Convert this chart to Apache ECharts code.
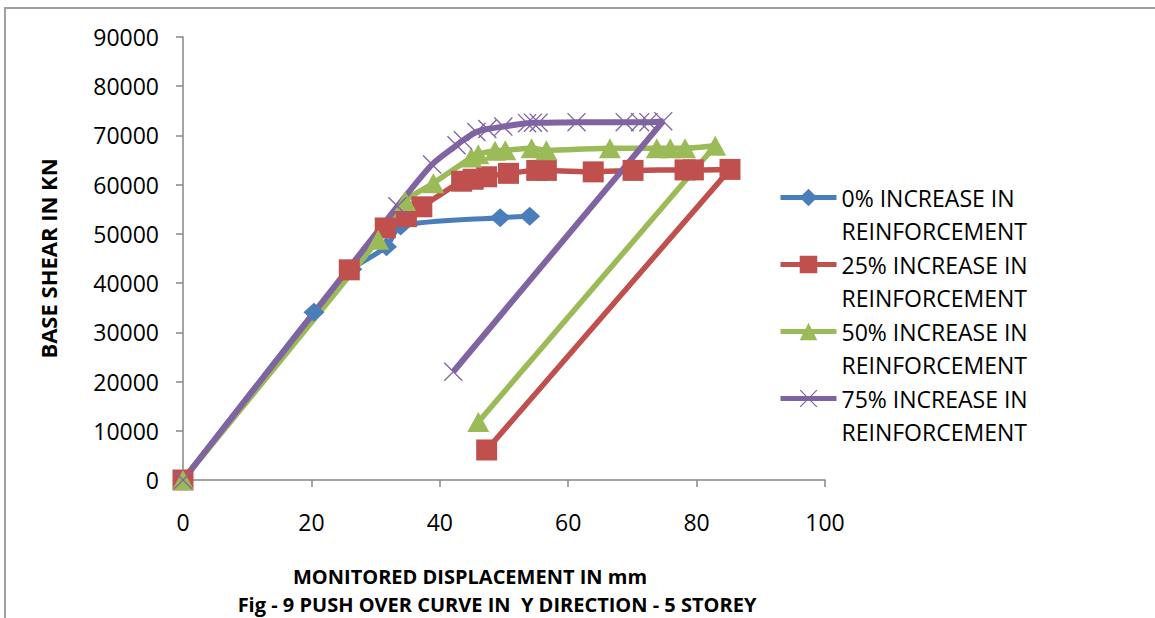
<!DOCTYPE html>
<html>
<head>
<meta charset="utf-8">
<script src="https://cdn.jsdelivr.net/npm/echarts@6/dist/echarts.min.js"></script>
<style>
  html, body { margin: 0; padding: 0; background: #fff; }
  .frame {
    position: absolute; left: 4px; top: 7px; right: 0; bottom: 0;
    border-left: 2px solid #a0a0a0; border-top: 2px solid #a0a0a0;
  }
  #chart { position: absolute; left: 0; top: 0; width: 1155px; height: 618px; }
</style>
</head>
<body>
<div class="frame"></div>
<div id="chart"></div>
<script>
// displacement (mm) / base shear (kN) per pushover step
const blueX = [0, 20.4, 26.3, 31.7, 33.9, 49.4, 54.0];
const blueY = [0, 34100, 42800, 47400, 51600, 53300, 53600];

const redX = [0, 25.9, 31.5, 34.8, 37.2, 43.4, 45.2, 47.3, 50.7, 55.1, 56.6, 63.9, 70.1, 78.2, 79.5, 85.2, 47.3];
const redY = [0, 42700, 51200, 53500, 55500, 60700, 61100, 61600, 62300, 62900, 62900, 62600, 62900, 63000, 63000, 63100, 6100];

const greenX = [0, 30.4, 34.6, 39.0, 44.9, 46.0, 48.6, 50.2, 54.3, 56.6, 66.5, 73.8, 75.9, 78.2, 82.9, 46.0];
const greenY = [0, 48800, 56700, 60300, 65500, 66200, 66900, 67000, 67400, 67000, 67400, 67400, 67400, 67400, 67900, 11800];

const purpleX = [0, 33.4, 38.8, 42.6, 43.6, 45.7, 47.4, 49.9, 53.6, 54.5, 55.4, 61.3, 68.8, 71.2, 72.5, 74.8, 42.1];
const purpleY = [0, 55600, 64100, 68000, 69000, 70700, 71300, 71800, 72500, 72600, 72600, 72700, 72700, 72700, 72700, 72900, 22000];

const seriesNames = [
  '0% INCREASE IN\nREINFORCEMENT',
  '25% INCREASE IN\nREINFORCEMENT',
  '50% INCREASE IN\nREINFORCEMENT',
  '75% INCREASE IN\nREINFORCEMENT'
];
const xTicks = [0, 20, 40, 60, 80, 100];
const yTicks = [0, 10000, 20000, 30000, 40000, 50000, 60000, 70000, 80000, 90000];

const FONT = 'Open Sans';
const crossPath = 'path://M0,1 L1,0 L20,19 L19,20 Z M19,0 L20,1 L1,20 L0,19 Z';

function pairs(xs, ys) {
  return xs.map((x, i) => [x, ys[i]]);
}

function makeSeries(name, xs, ys, color, symbol, size, width) {
  return {
    name: name,
    type: 'line',
    data: pairs(xs, ys),
    smooth: 0.25,
    symbol: symbol,
    symbolSize: size,
    showAllSymbol: true,
    lineStyle: { color: color, width: width },
    itemStyle: { color: color },
    emphasis: { disabled: true },
    animation: false
  };
}

const chart = echarts.init(document.getElementById('chart'), null, { renderer: 'svg' });

const titleFont = { fontFamily: FONT, fontSize: 20, lineHeight: 20, fontWeight: 'bold', color: '#000' };

const option = {
  backgroundColor: 'transparent',
  title: [
    {
      text: 'MONITORED DISPLACEMENT IN mm',
      left: 470, top: 566,
      textAlign: 'center',
      padding: 0,
      textStyle: titleFont
    },
    {
      text: 'Fig - 9 PUSH OVER CURVE IN  Y DIRECTION - 5 STOREY',
      left: 497, top: 594,
      textAlign: 'center',
      padding: 0,
      textStyle: titleFont
    }
  ],
  grid: { left: 183, right: 330, top: 37, bottom: 138 },
  legend: {
    orient: 'vertical',
    left: 773,
    top: 143,
    itemWidth: 56,
    itemHeight: 22,
    itemGap: -32,
    data: seriesNames,
    selectedMode: false,
    formatter: name => '\n' + name,
    lineStyle: { width: 5 },
    textStyle: {
      fontFamily: FONT, fontSize: 23, color: '#000',
      lineHeight: 33
    }
  },
  xAxis: {
    type: 'value',
    min: xTicks[0], max: xTicks[xTicks.length - 1], interval: 20,
    splitLine: { show: false },
    axisLine: { onZero: false, lineStyle: { color: '#868686', width: 1.5 } },
    axisTick: { show: true, length: 7, lineStyle: { color: '#868686', width: 1.5 } },
    axisLabel: { margin: 30, fontFamily: FONT, fontSize: 23, color: '#000' }
  },
  yAxis: {
    type: 'value',
    min: yTicks[0], max: yTicks[yTicks.length - 1], interval: 10000,
    name: 'BASE SHEAR IN KN',
    nameLocation: 'middle',
    nameGap: 124,
    nameRotate: 90,
    nameTextStyle: { fontFamily: FONT, fontSize: 22, fontWeight: 'bold', color: '#000' },
    splitLine: { show: false },
    axisLine: { show: true, lineStyle: { color: '#868686', width: 1.5 } },
    axisTick: { show: true, length: 7, lineStyle: { color: '#868686', width: 1.5 } },
    axisLabel: {
      margin: 24, fontFamily: FONT, fontSize: 23, color: '#000',
      formatter: v => String(v)
    }
  },
  series: [
    makeSeries(seriesNames[0], blueX, blueY, '#4A7EBB', 'diamond', [21, 19], 5),
    makeSeries(seriesNames[1], redX, redY, '#C0504D', 'rect', 21, 5.5),
    makeSeries(seriesNames[2], greenX, greenY, '#9BBB59', 'triangle', [22, 20], 5.5),
    makeSeries(seriesNames[3], purpleX, purpleY, '#8064A2', crossPath, 19, 6)
  ]
};

chart.setOption(option);
</script>
</body>
</html>
